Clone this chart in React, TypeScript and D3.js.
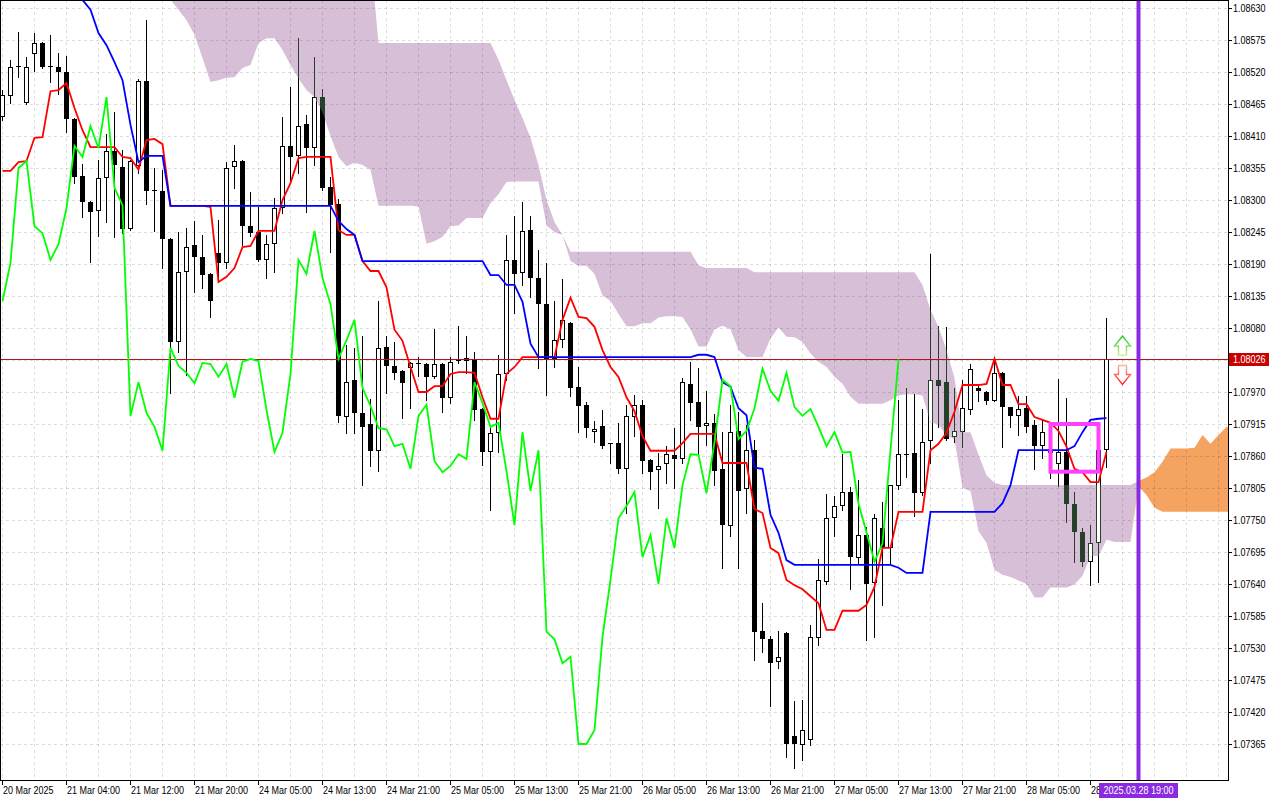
import React from "react";
import * as d3 from "d3";

// ---------- EURUSD H1 candles (20 Mar 2025 20:00 .. 28 Mar 2025 15:00) ----------
const opens = [
  1.08443, 1.08479, 1.08529, 1.08467, 1.08551, 1.0857, 1.0853, 1.08529, 1.0852, 1.08439,
  1.08341, 1.08297, 1.08281, 1.08338, 1.08384, 1.08357, 1.0825, 1.08358, 1.08505, 1.08315,
  1.08315, 1.08233, 1.08056, 1.08176, 1.08223, 1.08202, 1.08173, 1.08209, 1.08192, 1.08357,
  1.08367, 1.08255, 1.08245, 1.08197, 1.08224, 1.08286, 1.08393, 1.08376, 1.08431, 1.08389,
  1.08477, 1.08322, 1.08293, 1.07927, 1.07991, 1.07934, 1.07915, 1.07869, 1.08047, 1.08015,
  1.08006, 1.08011, 1.0802, 1.08018, 1.07996, 1.08018, 1.0796, 1.08023, 1.08028, 1.08025,
  1.07941, 1.07867, 1.079, 1.08001, 1.08197, 1.08175, 1.08248, 1.08166, 1.08121, 1.08027,
  1.08059, 1.08089, 1.07979, 1.07948, 1.07901, 1.07912, 1.07882, 1.07882, 1.07838, 1.07927,
  1.07948, 1.07853, 1.07836, 1.07846, 1.07862, 1.07855, 1.07984, 1.07953, 1.07912, 1.07917,
  1.07838, 1.0774, 1.07903, 1.07803, 1.0787, 1.07559, 1.07545, 1.07506, 1.07556, 1.07379,
  1.07363, 1.07372, 1.07547, 1.07643, 1.07753, 1.07774, 1.07798, 1.07685, 1.07724, 1.07642,
  1.07736, 1.07702, 1.07808, 1.07864, 1.07865, 1.07796, 1.07886, 1.07991, 1.07987, 1.07893,
  1.07901, 1.07939, 1.07977, 1.0797, 1.07955, 1.08003, 1.07944, 1.07929, 1.07942, 1.07913,
  1.07877, 1.07872, 1.07846, 1.07867, 1.07778, 1.07729, 1.07678, 1.0771, 1.0787,
];
const highs = [
  1.08489, 1.08541, 1.08589, 1.08546, 1.08587, 1.08572, 1.08584, 1.08553, 1.08548, 1.08441,
  1.08362, 1.08298, 1.08369, 1.08413, 1.08451, 1.08386, 1.08368, 1.08508, 1.08609, 1.08355,
  1.08352, 1.08235, 1.08245, 1.08252, 1.08264, 1.0824, 1.08174, 1.08266, 1.08365, 1.08395,
  1.08368, 1.08314, 1.08288, 1.0824, 1.08303, 1.08443, 1.08494, 1.08578, 1.08446, 1.08546,
  1.08491, 1.0834, 1.08302, 1.08051, 1.08046, 1.08066, 1.07958, 1.08126, 1.08066, 1.08056,
  1.08007, 1.08021, 1.0803, 1.0802, 1.08078, 1.08019, 1.0803, 1.08083, 1.08066, 1.08039,
  1.07942, 1.0791, 1.08034, 1.0824, 1.08272, 1.08297, 1.08272, 1.08214, 1.08192, 1.08126,
  1.08164, 1.0809, 1.08013, 1.07953, 1.0792, 1.07939, 1.07883, 1.07917, 1.07948, 1.07965,
  1.07956, 1.07854, 1.07865, 1.07877, 1.07908, 1.07994, 1.08022, 1.08011, 1.07972, 1.07932,
  1.07901, 1.07948, 1.07936, 1.07913, 1.07888, 1.07607, 1.07551, 1.07559, 1.07557, 1.07439,
  1.07441, 1.0757, 1.07683, 1.07795, 1.07791, 1.07863, 1.07807, 1.07819, 1.07738, 1.0776,
  1.07781, 1.07811, 1.07956, 1.07977, 1.07967, 1.07941, 1.08207, 1.08083, 1.08082, 1.07977,
  1.07991, 1.08018, 1.07984, 1.07971, 1.08028, 1.08004, 1.07945, 1.07963, 1.07963, 1.07922,
  1.07922, 1.07882, 1.07992, 1.0796, 1.07798, 1.07736, 1.07741, 1.07872, 1.08097,
];
const lows = [
  1.08437, 1.08467, 1.08511, 1.08465, 1.08522, 1.08527, 1.08503, 1.08482, 1.08417, 1.08329,
  1.08271, 1.08193, 1.08238, 1.08262, 1.08236, 1.08243, 1.08248, 1.08346, 1.08293, 1.08247,
  1.08183, 1.07968, 1.08039, 1.07999, 1.08142, 1.08149, 1.08099, 1.08159, 1.08183, 1.08321,
  1.08223, 1.08238, 1.08196, 1.08166, 1.08176, 1.08278, 1.08334, 1.08346, 1.08279, 1.0836,
  1.08317, 1.08211, 1.07918, 1.079, 1.079, 1.0781, 1.07843, 1.07834, 1.07968, 1.07992,
  1.07925, 1.07942, 1.07997, 1.07956, 1.07994, 1.07936, 1.07951, 1.0802, 1.08003, 1.07922,
  1.07845, 1.07767, 1.07867, 1.07991, 1.08106, 1.08154, 1.08133, 1.08011, 1.07965, 1.08013,
  1.08047, 1.07963, 1.07901, 1.07893, 1.07884, 1.07874, 1.07848, 1.07831, 1.07762, 1.07894,
  1.07831, 1.07803, 1.07771, 1.07814, 1.07805, 1.07848, 1.07922, 1.07865, 1.07879, 1.0781,
  1.07668, 1.07722, 1.07668, 1.07762, 1.07509, 1.07523, 1.0743, 1.07496, 1.07343, 1.07324,
  1.07338, 1.07363, 1.07535, 1.0764, 1.07722, 1.07767, 1.07631, 1.07676, 1.07544, 1.07549,
  1.07604, 1.07676, 1.07803, 1.07824, 1.07757, 1.07793, 1.07848, 1.0791, 1.07888, 1.07884,
  1.07875, 1.07932, 1.07955, 1.07949, 1.07954, 1.07875, 1.0791, 1.07896, 1.07901, 1.07838,
  1.07857, 1.07822, 1.07808, 1.07747, 1.07678, 1.07671, 1.07638, 1.07643, 1.07841,
];
const closes = [
  1.0848, 1.08529, 1.0853, 1.08529, 1.0857, 1.08529, 1.08528, 1.0852, 1.08439, 1.0834,
  1.08297, 1.08279, 1.08338, 1.08384, 1.0836, 1.0825, 1.08367, 1.08505, 1.08315, 1.08317,
  1.08233, 1.08056, 1.08176, 1.08219, 1.08202, 1.08171, 1.08126, 1.08192, 1.08355, 1.08367,
  1.08255, 1.08243, 1.08197, 1.08224, 1.08286, 1.08393, 1.08374, 1.08427, 1.08389, 1.08477,
  1.08321, 1.08291, 1.07929, 1.07987, 1.07934, 1.0791, 1.07869, 1.08046, 1.08015, 1.08003,
  1.07985, 1.0802, 1.08018, 1.07996, 1.08018, 1.0796, 1.08022, 1.08027, 1.08023, 1.07939,
  1.07867, 1.079, 1.08001, 1.08197, 1.08173, 1.08247, 1.08166, 1.08121, 1.08027, 1.08059,
  1.08094, 1.07977, 1.07946, 1.07908, 1.07906, 1.07877, 1.07881, 1.07838, 1.07929, 1.07948,
  1.07851, 1.07832, 1.07843, 1.07863, 1.07855, 1.07987, 1.07951, 1.0791, 1.07917, 1.07834,
  1.07741, 1.07901, 1.078, 1.0787, 1.07558, 1.07545, 1.07504, 1.07515, 1.07365, 1.07365,
  1.07389, 1.07549, 1.07647, 1.07753, 1.07774, 1.07798, 1.07686, 1.07724, 1.0764, 1.07753,
  1.07702, 1.0781, 1.07863, 1.07862, 1.07796, 1.07884, 1.07991, 1.0798, 1.07889, 1.07903,
  1.07942, 1.0801, 1.07972, 1.07955, 1.08003, 1.07944, 1.07929, 1.07941, 1.0791, 1.07877,
  1.07901, 1.07866, 1.07867, 1.07778, 1.07729, 1.07678, 1.0771, 1.0787, 1.08026,
];

// ---------- Ichimoku lines ----------
const tenkanSen = [
  1.0835, 1.0835, 1.08365, 1.08367, 1.08407, 1.08408, 1.08487, 1.08489, 1.08501, 1.08458,
  1.0842, 1.08391, 1.08391, 1.08391, 1.08391, 1.08374, 1.08372, 1.08352, 1.08403, 1.08405,
  1.08396, 1.0829, 1.0829, 1.0829, 1.0829, 1.0829, 1.08288, 1.08159, 1.08168, 1.08183,
  1.08219, 1.08221, 1.08247, 1.08247, 1.08247, 1.083, 1.08329, 1.08372, 1.08374, 1.08374,
  1.08374, 1.08374, 1.08248, 1.0824, 1.0824, 1.08195, 1.08178, 1.08178, 1.0815, 1.08077,
  1.08058, 1.08013, 1.0797, 1.0797, 1.0798, 1.0798, 1.08001, 1.08004, 1.08004, 1.08003,
  1.07961, 1.07924, 1.07924, 1.08001, 1.08013, 1.0803, 1.0803, 1.0803, 1.0803, 1.0803,
  1.08094, 1.08132, 1.08099, 1.08097, 1.08082, 1.08042, 1.08013, 1.07996, 1.07961, 1.07937,
  1.07894, 1.07869, 1.07869, 1.07869, 1.07869, 1.07882, 1.07898, 1.07898, 1.07898, 1.07898,
  1.07848, 1.07848, 1.07848, 1.07848, 1.07769, 1.07762, 1.07702, 1.07693, 1.07647, 1.07638,
  1.07631, 1.07619, 1.07607, 1.07561, 1.07561, 1.07594, 1.07594, 1.07594, 1.07604, 1.07635,
  1.07702, 1.07702, 1.07764, 1.07764, 1.07764, 1.07764, 1.0787, 1.07881, 1.079, 1.07936,
  1.07982, 1.07982, 1.07982, 1.07984, 1.08027, 1.07982, 1.07982, 1.07949, 1.07949, 1.07927,
  1.07922, 1.07917, 1.07903, 1.07876, 1.07838, 1.07832, 1.07815, 1.07815, 1.07867,
];
const kijunSen: (number | null)[] = [
  null, null, null, null, null, null, null, null, null, 1.08658,
  1.08644, 1.08627, 1.08587, 1.08566, 1.08537, 1.08506, 1.08429, 1.08365, 1.08376, 1.08376,
  1.08376, 1.0829, 1.0829, 1.0829, 1.0829, 1.0829, 1.0829, 1.0829, 1.0829, 1.0829,
  1.0829, 1.0829, 1.0829, 1.0829, 1.0829, 1.0829, 1.0829, 1.0829, 1.0829, 1.0829,
  1.0829, 1.0829, 1.08264, 1.0825, 1.0824, 1.08195, 1.08195, 1.08195, 1.08195, 1.08195,
  1.08195, 1.08195, 1.08195, 1.08195, 1.08195, 1.08195, 1.08195, 1.08195, 1.08195, 1.08195,
  1.08195, 1.08171, 1.08171, 1.08154, 1.08154, 1.08125, 1.08053, 1.0803, 1.0803, 1.0803,
  1.0803, 1.0803, 1.0803, 1.0803, 1.0803, 1.0803, 1.0803, 1.0803, 1.0803, 1.0803,
  1.0803, 1.0803, 1.0803, 1.0803, 1.0803, 1.0803, 1.0803, 1.08034, 1.08034, 1.0803,
  1.07987, 1.07979, 1.07942, 1.0793, 1.0784, 1.07838, 1.07759, 1.07728, 1.07681, 1.07673,
  1.07673, 1.07673, 1.07673, 1.07673, 1.07673, 1.07673, 1.07673, 1.07673, 1.07673, 1.07673,
  1.07673, 1.07673, 1.07668, 1.07659, 1.07659, 1.07659, 1.07764, 1.07764, 1.07764, 1.07764,
  1.07764, 1.07764, 1.07764, 1.07764, 1.07764, 1.07779, 1.0781, 1.0787, 1.0787, 1.0787,
  1.0787, 1.0787, 1.0787, 1.0787, 1.07877, 1.07901, 1.07922, 1.07924, 1.07925,
];
// Senkou spans, bar 20 .. bar 154 (projected 26 bars forward)
const SPAN_START = 20;
const senkouSpanA = [
  1.08664, 1.08644, 1.08627, 1.08609, 1.08584, 1.08544, 1.08503, 1.08506, 1.0851, 1.08511,
  1.08527, 1.08532, 1.0857, 1.08578, 1.08578, 1.08558, 1.08532, 1.08509, 1.08489, 1.08477,
  1.08451, 1.0841, 1.08374, 1.08358, 1.08364, 1.0836, 1.08352, 1.0829, 1.0829, 1.0829,
  1.0829, 1.0829, 1.08289, 1.08225, 1.08229, 1.08237, 1.08255, 1.08256, 1.08269, 1.08269,
  1.08269, 1.08295, 1.0831, 1.08331, 1.08332, 1.08332, 1.08332, 1.08332, 1.08256, 1.08245,
  1.0824, 1.08195, 1.08187, 1.08187, 1.08173, 1.08136, 1.08127, 1.08104, 1.08083, 1.08083,
  1.08088, 1.08088, 1.08098, 1.081, 1.081, 1.08099, 1.08078, 1.08048, 1.08048, 1.08078,
  1.08084, 1.08078, 1.08042, 1.0803, 1.0803, 1.0803, 1.08062, 1.08081, 1.08065, 1.08064,
  1.08056, 1.08036, 1.08022, 1.08013, 1.07996, 1.07984, 1.07962, 1.0795, 1.0795, 1.0795,
  1.0795, 1.07956, 1.07964, 1.07966, 1.07966, 1.07964, 1.07918, 1.07914, 1.07895, 1.07889,
  1.07805, 1.078, 1.07731, 1.07711, 1.07664, 1.07656, 1.07652, 1.07646, 1.0764, 1.07617,
  1.07617, 1.07634, 1.07634, 1.07634, 1.07639, 1.07654, 1.07688, 1.07688, 1.07716, 1.07712,
  1.07712, 1.07712, 1.07817, 1.07823, 1.07832, 1.0785, 1.07873, 1.07873, 1.07873, 1.07874,
  1.07896, 1.07881, 1.07896, 1.0791, 1.0791,
];
const senkouSpanB = [
  1.0872, 1.0872, 1.0872, 1.0872, 1.0872, 1.0872, 1.0872, 1.0872, 1.0872, 1.0872,
  1.0872, 1.0872, 1.0872, 1.0872, 1.0872, 1.0872, 1.0872, 1.0872, 1.0872, 1.0872,
  1.0872, 1.0872, 1.0872, 1.0872, 1.0872, 1.0872, 1.0872, 1.0857, 1.0857, 1.0857,
  1.0857, 1.0857, 1.0857, 1.0857, 1.0857, 1.0857, 1.0857, 1.0857, 1.0857, 1.0857,
  1.0857, 1.0857, 1.08541, 1.08506, 1.08472, 1.08441, 1.08407, 1.0836, 1.083, 1.08262,
  1.0824, 1.08211, 1.08211, 1.08211, 1.08211, 1.08211, 1.08211, 1.08211, 1.08211, 1.08211,
  1.08211, 1.08211, 1.08211, 1.08211, 1.08211, 1.08211, 1.08211, 1.08188, 1.08183, 1.08183,
  1.08183, 1.08183, 1.08183, 1.08183, 1.08176, 1.08176, 1.08176, 1.08176, 1.08176, 1.08176,
  1.08176, 1.08176, 1.08176, 1.08176, 1.08176, 1.08176, 1.08176, 1.08176, 1.08176, 1.08176,
  1.08176, 1.08176, 1.08176, 1.08176, 1.08176, 1.08154, 1.08111, 1.08082, 1.08042, 1.07994,
  1.07901, 1.07901, 1.07862, 1.07827, 1.07814, 1.0781, 1.0781, 1.0781, 1.0781, 1.0781,
  1.0781, 1.0781, 1.0781, 1.0781, 1.0781, 1.0781, 1.0781, 1.0781, 1.0781, 1.0781,
  1.0781, 1.0781, 1.07808, 1.07793, 1.07771, 1.07764, 1.07764, 1.07764, 1.07764, 1.07764,
  1.07764, 1.07764, 1.07764, 1.07764, 1.07764,
];
const CHIKOU_SHIFT = 26;

// ---------- axes ----------
const priceTicks = [
  "1.08630", "1.08575", "1.08520", "1.08465", "1.08410", "1.08355", "1.08300", "1.08245",
  "1.08190", "1.08135", "1.08080", "1.08025", "1.07970", "1.07915", "1.07860", "1.07805",
  "1.07750", "1.07695", "1.07640", "1.07585", "1.07530", "1.07475", "1.07420", "1.07365",
];
const timeLabels = [
  "20 Mar 2025", "21 Mar 04:00", "21 Mar 12:00", "21 Mar 20:00", "24 Mar 05:00", "24 Mar 13:00",
  "24 Mar 21:00", "25 Mar 05:00", "25 Mar 13:00", "25 Mar 21:00", "26 Mar 05:00", "26 Mar 13:00",
  "26 Mar 21:00", "27 Mar 05:00", "27 Mar 13:00", "27 Mar 21:00", "28 Mar 05:00", "28 Mar 13:00",
];
const TIME_LABEL_STEP = 8;
const GRID_BAR_STEP = 4;
const CURRENT_PRICE = 1.08026;
const MARKER_BAR = 142;
const MARKER_LABEL = "2025.03.28 19:00";
const highlightBox = { fromBar: 131, toBar: 137, high: 1.07915, low: 1.07833 };
const signalArrows = [
  { bar: 140, price: 1.08066, dir: "up" },
  { bar: 140, price: 1.07983, dir: "down" },
];

const FONT = "'Liberation Sans', Arial, sans-serif";
const CHAR_W = 5.0; // approx. rendered width per character of axis labels

function Label(props: { x: number; y: number; text: string; fill?: string; anchor?: string }) {
  return (
    <text
      transform={`translate(${props.x},${props.y}) scale(0.82,1)`}
      fontFamily={FONT}
      fontSize={11}
      fill={props.fill || "#000"}
      textAnchor={props.anchor || "start"}
    >
      {props.text}
    </text>
  );
}

export default function App() {
  const W = 1280;
  const H = 800;
  const plotR = 1228;
  const plotB = 780;
  const lastSpanBar = SPAN_START + senkouSpanA.length - 1;
  const x = d3.scaleLinear().domain([0, lastSpanBar]).range([2, 2 + 8 * lastSpanBar]);
  const y = d3.scaleLinear().domain([1.07365, 1.0863]).range([744, 8]);
  const PX = (i: number) => Math.round(x(i));
  const PY = (p: number) => Math.round(y(p));

  const bars = d3.range(closes.length);
  const spanIdx = d3.range(senkouSpanA.length);

  const thistleArea = d3
    .area<number>()
    .x((k) => x(SPAN_START + k) + 0.5)
    .y0((k) => y(senkouSpanA[k]))
    .y1((k) => Math.min(y(senkouSpanA[k]), y(senkouSpanB[k])));
  const orangeArea = d3
    .area<number>()
    .x((k) => x(SPAN_START + k) + 0.5)
    .y0((k) => Math.max(y(senkouSpanA[k]), y(senkouSpanB[k])))
    .y1((k) => y(senkouSpanA[k]));
  const thistlePath = thistleArea(spanIdx) || "";
  const orangePath = orangeArea(spanIdx) || "";

  const linePath = (vals: (number | null)[]) =>
    d3
      .line<number | null>()
      .defined((d) => d != null)
      .x((_d, i) => x(i) + 0.5)
      .y((d) => y(d as number))(vals) || "";

  const chikou = closes.slice(CHIKOU_SHIFT);

  const renderCandles = (ink: string, pre: string) =>
    bars.map((i) => {
      const o = opens[i];
      const c = closes[i];
      const px = PX(i);
      const yH = PY(highs[i]);
      const yL = PY(lows[i]);
      const yT = PY(Math.max(o, c));
      const yB = PY(Math.min(o, c));
      const bull = c >= o;
      let body;
      if (yB - yT < 2) {
        body = <rect x={px - 2} y={yT} width={5} height={Math.max(1, yB - yT)} fill={ink} />;
      } else if (bull) {
        body = (
          <rect x={px - 1.5} y={yT + 0.5} width={4} height={yB - yT - 1} fill="#fff" stroke={ink} strokeWidth={1} />
        );
      } else {
        body = <rect x={px - 2} y={yT} width={5} height={yB - yT} fill={ink} />;
      }
      return (
        <g key={pre + i}>
          <line x1={px + 0.5} x2={px + 0.5} y1={yH} y2={yL + 1} stroke={ink} strokeWidth={1} />
          {body}
        </g>
      );
    });

  const gridBars = d3.range(0, lastSpanBar + 1, GRID_BAR_STEP).filter((b) => x(b) < plotR);
  const priceY = Math.floor(y(CURRENT_PRICE)) + 0.5;
  const markerX = PX(MARKER_BAR) + 0.5;
  const markerBoxLeft = markerX - 39.5;

  const arrowPath = (cx: number, ty: number, dir: string) => {
    const s = dir === "up" ? 1 : -1;
    const pts: [number, number][] = [
      [0, 0], [8, 10], [4, 10], [4, 19], [-4, 19], [-4, 10], [-8, 10],
    ];
    return "M" + pts.map(([a, b]) => `${cx + a},${ty + s * b}`).join("L") + "Z";
  };

  return (
    <svg
      width={W}
      height={H}
      viewBox={`0 0 ${W} ${H}`}
      style={{ position: "absolute", left: 0, top: 0, background: "#fff" }}
    >
      <defs>
        <clipPath id="plot">
          <rect x={0} y={0} width={plotR} height={plotB} />
        </clipPath>
        <clipPath id="kumo">
          <path d={thistlePath} />
        </clipPath>
        <linearGradient id="gUp" x1="0" y1="0" x2="0" y2="1">
          <stop offset="0" stopColor="#19c819" />
          <stop offset="1" stopColor="#c9ef9a" />
        </linearGradient>
        <linearGradient id="gDown" x1="0" y1="0" x2="0" y2="1">
          <stop offset="0" stopColor="#ffb59a" />
          <stop offset="1" stopColor="#ff1a1a" />
        </linearGradient>
      </defs>
      <rect x={0} y={0} width={W} height={H} fill="#fff" />

      <g clipPath="url(#plot)">
        {/* cloud */}
        <path d={thistlePath} fill="#d8bfd8" />
        <path d={orangePath} fill="#f4a460" />

        {/* grid */}
        <g stroke="rgba(0,0,0,0.13)" strokeWidth={1} strokeDasharray="3,3" shapeRendering="crispEdges">
          {gridBars.map((b) => (
            <line key={"gv" + b} x1={PX(b) + 0.5} x2={PX(b) + 0.5} y1={0} y2={plotB} />
          ))}
          {priceTicks.map((t) => (
            <line key={"gh" + t} x1={0} x2={plotR} y1={PY(+t) + 0.5} y2={PY(+t) + 0.5} />
          ))}
        </g>

        {/* candles */}
        <g shapeRendering="crispEdges">{renderCandles("#000", "c")}</g>
        <g shapeRendering="crispEdges" clipPath="url(#kumo)">
          {renderCandles("#27402a", "k")}
        </g>

        {/* current price line */}
        <line x1={0} x2={plotR} y1={priceY} y2={priceY} stroke="#b41414" strokeWidth={1} />

        {/* ichimoku lines */}
        <path d={linePath(tenkanSen)} fill="none" stroke="#ff0000" strokeWidth={1.8} />
        <path d={linePath(kijunSen)} fill="none" stroke="#0000ff" strokeWidth={1.8} />
        <path d={linePath(chikou)} fill="none" stroke="#00ff00" strokeWidth={1.8} />

        {/* highlight rectangle */}
        <rect
          x={PX(highlightBox.fromBar) + 0.5}
          y={y(highlightBox.high)}
          width={x(highlightBox.toBar) - x(highlightBox.fromBar)}
          height={y(highlightBox.low) - y(highlightBox.high)}
          fill="none"
          stroke="#ff40ff"
          strokeWidth={4}
        />

        {/* signal arrows */}
        {signalArrows.map((a, k) => (
          <path
            key={"ar" + k}
            d={arrowPath(PX(a.bar) + 0.5, y(a.price), a.dir)}
            fill="#fff"
            stroke={a.dir === "up" ? "url(#gUp)" : "url(#gDown)"}
            strokeWidth={1.4}
          />
        ))}

        {/* vertical marker line */}
        <line x1={markerX} x2={markerX} y1={0} y2={plotB} stroke="#8a2be2" strokeWidth={4} />
      </g>

      {/* frame */}
      <rect x={0.5} y={0.5} width={plotR} height={plotB} fill="none" stroke="#000" strokeWidth={1} shapeRendering="crispEdges" />

      {/* price axis */}
      {priceTicks.map((t) => (
        <g key={"pt" + t}>
          <line x1={plotR} x2={plotR + 4} y1={PY(+t) + 0.5} y2={PY(+t) + 0.5} stroke="#000" shapeRendering="crispEdges" />
          <Label x={plotR + 5} y={PY(+t) + 4} text={t} />
        </g>
      ))}
      <rect x={plotR + 1} y={Math.round(y(CURRENT_PRICE)) - 6} width={40} height={13} fill="#c80000" />
      <Label x={plotR + 5} y={Math.round(y(CURRENT_PRICE)) + 4} text={CURRENT_PRICE.toFixed(5)} fill="#fff" />

      {/* time axis */}
      {timeLabels.map((t, k) => {
        const bx = PX(k * TIME_LABEL_STEP);
        // a label running under the marker's date box is cut at the box, as in the terminal
        const fits = bx + 1 + t.length * CHAR_W < markerBoxLeft;
        const shown = fits ? t : t.split(" ")[0];
        return (
          <g key={"tl" + k}>
            <line x1={bx + 0.5} x2={bx + 0.5} y1={plotB} y2={plotB + 5} stroke="#000" shapeRendering="crispEdges" />
            <Label x={bx + 1} y={plotB + 14} text={shown} />
          </g>
        );
      })}
      <rect x={markerBoxLeft} y={plotB + 3} width={79} height={15} fill="#8a2be2" />
      <Label x={markerX} y={plotB + 14} text={MARKER_LABEL} fill="#fff" anchor="middle" />
    </svg>
  );
}
